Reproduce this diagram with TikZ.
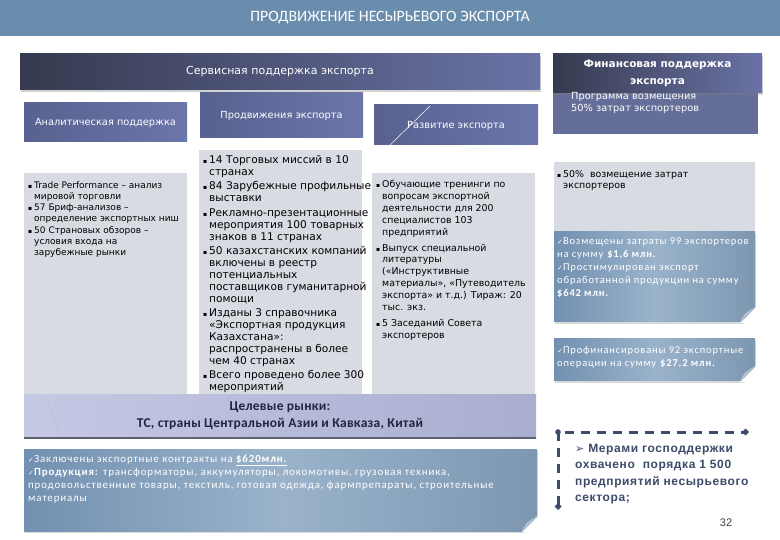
\documentclass[tikz,border=0pt]{standalone}
\usepackage{fontspec}
\setmainfont{DejaVu Sans}
\newfontfamily\calfont{Carlito}
\newfontfamily\calspaced[LetterSpace=8]{Carlito}
\newfontfamily\calwide[LetterSpace=2]{Carlito}
\newfontfamily\arfont{Liberation Sans}
\newfontfamily\arspaced[LetterSpace=5]{Liberation Sans}
\newfontfamily\symfont{DejaVu Sans}
\usetikzlibrary{arrows.meta,positioning,shadows}
\definecolor{titleblue}{HTML}{6A8DAE}
\definecolor{hdrdark}{HTML}{363A4F}
\definecolor{hdrlight}{HTML}{6A73A6}
\definecolor{subA}{HTML}{58618F}
\definecolor{subB}{HTML}{6B76AA}
\definecolor{colgray}{HTML}{D8DBE2}
\definecolor{noteA}{HTML}{7290B0}
\definecolor{noteB}{HTML}{7D97B1}
\definecolor{noteC}{HTML}{9AB3CB}
\definecolor{foldcol}{HTML}{B7C5D3}
\definecolor{targetA}{HTML}{C6C9E4}
\definecolor{targetB}{HTML}{A9AED1}
\definecolor{inkdark}{HTML}{1E2740}
\definecolor{bracketcol}{HTML}{3D4A6B}
\newcommand\bul{\makebox[6pt][l]{\symfont\fontsize{6}{6}\selectfont▪}}
\newcommand\cont{\hspace*{6pt}}
\newcommand\chk{{\symfont\fontsize{7}{7}\selectfont✓}}

\begin{document}
\begin{tikzpicture}[x=1pt,y=-1pt,
  bar/.style={anchor=north west,inner sep=0pt,outer sep=0pt},
  hdr/.style={bar,left color=hdrdark,right color=hdrlight,text=white,
    drop shadow={opacity=.35,shadow xshift=1pt,shadow yshift=-2pt}},
  subhdr/.style={bar,left color=subA,right color=subB,text=white,
    font=\fontsize{9.8}{12}\selectfont},
  colbody/.style={bar,fill=colgray},
  coltext/.style={anchor=north west,inner sep=0pt,align=left},
  note/.style={bar,left color=noteA,right color=noteB,middle color=noteC,
    drop shadow={opacity=.3,shadow xshift=1pt,shadow yshift=-2pt}},
  notetext/.style={anchor=north west,inner sep=0pt,align=left,text=white,
    font=\calspaced\fontsize{10.5}{13}\selectfont}]
  \useasboundingbox (0,0) rectangle (780,540);
  \fill[white] (0,0) rectangle (780,540);

  % title
  \node[bar,fill=titleblue,minimum width=780pt,minimum height=36pt,text=white,
    font=\calfont\fontsize{15.8}{17}\selectfont] (titleBar) at (0,0)
    {ПРОДВИЖЕНИЕ НЕСЫРЬЕВОГО ЭКСПОРТА};

  % service support
  \node[hdr,minimum width=520pt,minimum height=36pt,font=\fontsize{11}{13}\selectfont]
    (serviceHdr) at (20,54) {Сервисная поддержка экспорта};
  \node[colbody,minimum width=163pt,minimum height=221pt] (analitBody) at (24,173) {};
  \node[colbody,minimum width=163pt,minimum height=244pt] (promoBody) at (199,150) {};
  \node[colbody,minimum width=163pt,minimum height=221pt] (devBody) at (372,173) {};
  \node[subhdr,minimum width=163pt,minimum height=39pt] (analitHdr) at (24,103)
    {Аналитическая поддержка};
  \node[subhdr,minimum width=163pt,minimum height=45pt] (promoHdr) at (200,93)
    {Продвижения экспорта};
  \node[subhdr,minimum width=164pt,minimum height=40pt,text depth=-7pt] (devHdr) at (374,105)
    {Развитие экспорта};
  \draw[white,line width=.5pt] (430,106) -- (387,148);

  \node[coltext,font=\fontsize{9}{11.3}\selectfont] (analitText) at (28,181)
    {\bul Trade Performance – анализ\\
     \cont мировой торговли\\
     \bul 57 Бриф-анализов –\\
     \cont определение экспортных ниш\\
     \bul 50 Страновых обзоров –\\
     \cont условия входа на\\
     \cont зарубежные рынки};
  \node[coltext,font=\fontsize{10.6}{11.8}\selectfont] (promoText) at (203,155)
    {\bul 14 Торговых миссий в 10\\
     \cont странах\\[3pt]
     \bul 84 Зарубежные профильные\\
     \cont выставки\\[3pt]
     \bul Рекламно-презентационные\\
     \cont мероприятия 100 товарных\\
     \cont знаков в 11 странах\\[3pt]
     \bul 50 казахстанских компаний\\
     \cont включены в реестр\\
     \cont потенциальных\\
     \cont поставщиков гуманитарной\\
     \cont помощи\\[3pt]
     \bul Изданы 3 справочника\\
     \cont «Экспортная продукция\\
     \cont Казахстана»:\\
     \cont распространены в более\\
     \cont чем 40 странах\\[3pt]
     \bul Всего проведено более 300\\
     \cont мероприятий};
  \node[coltext,font=\fontsize{9.4}{11.9}\selectfont] (devText) at (376,180)
    {\bul Обучающие тренинги по\\
     \cont вопросам экспортной\\
     \cont деятельности для 200\\
     \cont специалистов 103\\
     \cont предприятий\\[4pt]
     \bul Выпуск специальной\\
     \cont литературы\\
     \cont («Инструктивные\\
     \cont материалы», «Путеводитель\\
     \cont экспорта» и т.д.) Тираж: 20\\
     \cont тыс. экз.\\[4pt]
     \bul 5 Заседаний Совета\\
     \cont экспортеров};

  % financial support
  \node[bar,fill=subA!92!white,minimum width=205pt,minimum height=41pt] (finBody) at (553,93) {};
  \node[hdr,minimum width=209pt,minimum height=39pt,align=center,
    font=\bfseries\fontsize{10.5}{17}\selectfont] (finHdr) at (553,54)
    {Финансовая поддержка\\экспорта};
  \node[coltext,text=white,font=\fontsize{9.8}{12.5}\selectfont] (finProg) at (571,92)
    {Программа возмещения\\50\% затрат экспортеров};
  \node[colbody,minimum width=201pt,minimum height=70pt] (finGray) at (554,162) {};
  \node[coltext,font=\fontsize{9.4}{11.7}\selectfont] (finGrayText) at (557,170)
    {\bul 50\%\ \ возмещение затрат\\\cont экспортеров};
  \node[note,minimum width=201pt,minimum height=90pt] (finNoteA) at (554,232) {};
  \node[note,minimum width=201pt,minimum height=42pt] (finNoteB) at (554,339) {};
  \foreach \n in {finNoteA,finNoteB}{
    \fill[white] ([xshift=-15pt,yshift=-1pt]\n.south east) -- ([xshift=1pt,yshift=15pt]\n.south east)
      -- ([xshift=1pt,yshift=-3pt]\n.south east) -- cycle;
    \fill[foldcol] ([xshift=-15pt]\n.south east) .. controls ([xshift=-11pt,yshift=8pt]\n.south east)
      .. ([yshift=15pt]\n.south east) .. controls ([xshift=-6pt,yshift=9pt]\n.south east)
      .. cycle;
  }
  \node[notetext] (finNoteAText) at (557,237)
    {\chk Возмещены затраты 99 экспортеров\\
     на сумму \textbf{\$1,6 млн.}\\
     \chk Простимулирован экспорт\\
     обработанной продукции на сумму\\
     \textbf{\$642 млн.}};
  \node[notetext] (finNoteBText) at (557,346)
    {\chk Профинансированы 92 экспортные\\
     операции на сумму \textbf{\$27,2 млн.}};

  % target markets and results
  \node[bar,left color=targetA,right color=targetB,minimum width=512pt,minimum height=44pt,
    align=center,text=inkdark,font=\calwide\bfseries\fontsize{13.5}{17}\selectfont] (targetBar) at (24,394)
    {Целевые рынки:\\ТС, страны Центральной Азии и Кавказа, Китай};
  \draw[hdrdark!80,line width=1.5pt] (targetBar.south west) -- (targetBar.south east);
  \draw[gray!70,densely dotted,line width=.4pt] (46,395) -- (58,432);
  \node[note,minimum width=513pt,minimum height=82pt] (resultBox) at (24,449) {};
  \fill[white] ([xshift=-15pt,yshift=-1pt]resultBox.south east) -- ([xshift=1pt,yshift=15pt]resultBox.south east)
    -- ([xshift=1pt,yshift=-3pt]resultBox.south east) -- cycle;
  \fill[foldcol] ([xshift=-15pt]resultBox.south east) .. controls ([xshift=-11pt,yshift=8pt]resultBox.south east)
    .. ([yshift=15pt]resultBox.south east) .. controls ([xshift=-6pt,yshift=9pt]resultBox.south east)
    .. cycle;
  \node[notetext,font=\calspaced\fontsize{10.9}{13}\selectfont] (resultText) at (28,455)
    {\chk Заключены экспортные контракты на \underline{\textbf{\$620млн.}}\\
     \chk\textbf{Продукция:} трансформаторы, аккумуляторы, локомотивы, грузовая техника,\\
     продовольственные товары, текстиль, готовая одежда, фармпрепараты, строительные\\
     материалы};

  % coverage
  \coordinate (brCorner) at (558,432);
  \coordinate (brEnd) at (747,432);
  \coordinate (brFoot) at (558,508);
  \draw[bracketcol,line width=3pt,dash pattern=on 9pt off 7pt,
    {Diamond[length=7pt,width=7pt,sep=-2pt]}-{Diamond[length=7pt,width=7pt,sep=-2pt]}]
    (brFoot) -- (brCorner) -- (brEnd);
  \fill[bracketcol] (brCorner) circle (2.8pt);
  \node[coltext,text=bracketcol,font=\arspaced\bfseries\fontsize{12}{16.5}\selectfont] (coverText) at (575,444)
    {{\symfont\fontsize{11}{11}\selectfont ➢} Мерами господдержки\\
     охвачено\ \ порядка 1 500\\
     предприятий несырьевого\\
     сектора;};
  \node[text=black!75,font=\arfont\fontsize{11}{13}\selectfont] (pageNum) at (726,523) {32};
\end{tikzpicture}
\end{document}
